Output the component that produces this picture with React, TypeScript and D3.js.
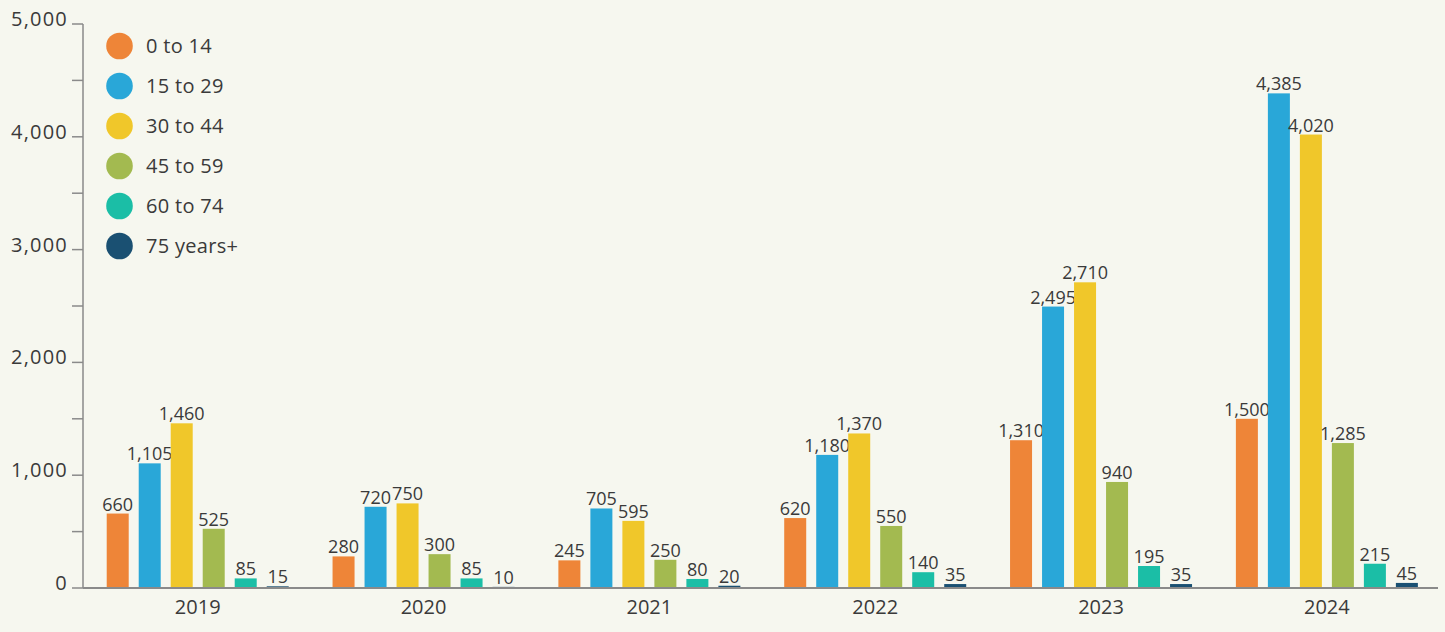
import React from 'react'
import * as d3 from 'd3'

const years = ['2019', '2020', '2021', '2022', '2023', '2024']
const groups = ['0 to 14', '15 to 29', '30 to 44', '45 to 59', '60 to 74', '75 years+']
const colors = ['#EE8538', '#29A7D8', '#F0C72A', '#A3BA50', '#1BBEA6', '#1A5072']

// one row per year, one value per age group
const values = [
  [660, 1105, 1460, 525, 85, 15],
  [280, 720, 750, 300, 85, 10],
  [245, 705, 595, 250, 80, 20],
  [620, 1180, 1370, 550, 140, 35],
  [1310, 2495, 2710, 940, 195, 35],
  [1500, 4385, 4020, 1285, 215, 45]
]

const yTicks = [0, 1000, 2000, 3000, 4000, 5000]
const yMinor = [500, 1500, 2500, 3500, 4500]

export default function App() {
  const width = 1445
  const height = 632
  const left = 83
  const right = 1438
  const top = 24
  const bottom = 588
  const font = '"Open Sans", "Noto Sans", sans-serif'
  const textColor = '#3a3a3a'

  const y = d3.scaleLinear().domain([0, 5000]).range([bottom, top])
  // bands sit slightly right of the y axis line
  const x0 = d3.scaleBand().domain(years).range([left + 1.8, right + 1.8]).padding(0)
  const groupW = 182
  const x1 = d3.scaleBand().domain(groups)
    .range([(x0.bandwidth() - groupW) / 2, (x0.bandwidth() + groupW) / 2])
    .paddingInner(0.3125).paddingOuter(0)
  const fmt = d3.format(',')

  return (
    <svg width={width} height={height} style={{ position: 'absolute', left: 0, top: 0, background: '#fff' }}
      fontFamily={font}>
      <rect x={0} y={0} width={width} height={height} fill="#F6F7EF" />

      {/* bars */}
      {values.map((row, i) => (
        <g key={years[i]} transform={`translate(${x0(years[i])},0)`}>
          {row.map((v, j) => (
            <g key={groups[j]}>
              <rect x={x1(groups[j])} y={y(v)} width={x1.bandwidth()} height={bottom - y(v)} fill={colors[j]} />
              <text x={x1(groups[j])! + x1.bandwidth() / 2} y={y(v) - 3} textAnchor="middle"
                fontSize={18} fill={textColor}>{fmt(v)}</text>
            </g>
          ))}
          <text x={x0.bandwidth() / 2} y={614} textAnchor="middle" fontSize={20} fill={textColor}>{years[i]}</text>
        </g>
      ))}

      {/* y axis */}
      <line x1={left} x2={left} y1={top} y2={bottom} stroke="#8a8a8a" strokeWidth={1.5} />
      {yTicks.concat(yMinor).map(t => (
        <line key={'t' + t} x1={72} x2={left} y1={y(t)} y2={y(t)} stroke="#8a8a8a" strokeWidth={1.5} />
      ))}
      {yTicks.map(t => (
        <text key={'l' + t} x={68} y={y(t) + 2} textAnchor="end" fontSize={20} letterSpacing={1.2}
          fill={textColor}>{fmt(t)}</text>
      ))}

      {/* x axis */}
      <line x1={left} x2={right} y1={bottom} y2={bottom} stroke="#8a8a8a" strokeWidth={2} />

      {/* legend */}
      {groups.map((g, i) => (
        <g key={g} transform={`translate(119.5,${46 + i * 40})`}>
          <circle r={13.3} fill={colors[i]} />
          <text x={26.5} y={7.3} fontSize={20} letterSpacing={0.3} fill={textColor}>{g}</text>
        </g>
      ))}
    </svg>
  )
}
